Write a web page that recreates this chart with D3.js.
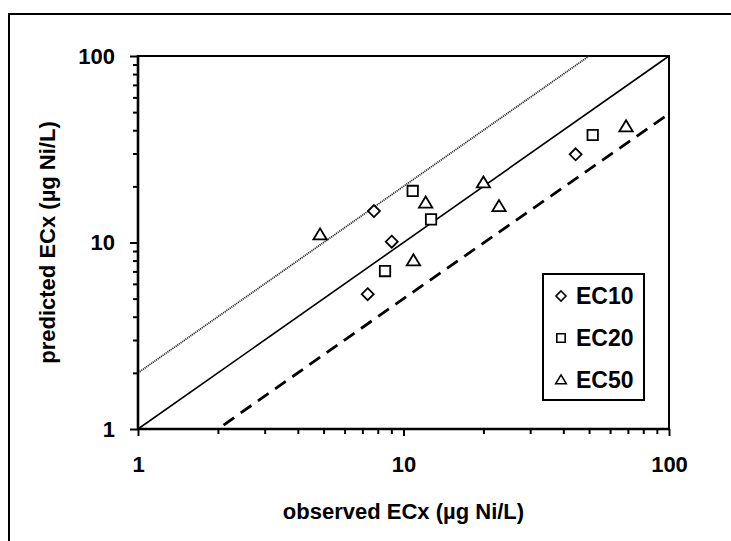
<!DOCTYPE html>
<html><head><meta charset="utf-8">
<script src="https://cdn.jsdelivr.net/npm/d3@7"></script>
<style>body{margin:0;background:#fff}svg{display:block}</style>
</head><body>
<svg id="c" width="731" height="541"></svg>
<script>
// ---- data ----
const ec10_x = [7.74, 9.03, 7.33, 44.5];
const ec10_y = [14.75, 10.1, 5.28, 29.7];
const ec20_x = [10.83, 12.7, 8.52, 51.6];
const ec20_y = [18.9, 13.3, 7.03, 37.7];
const ec50_x = [4.85, 12.12, 10.9, 20.0, 22.9, 68.9];
const ec50_y = [11.0, 16.3, 7.99, 20.9, 15.6, 41.8];
const line1_x = [1, 100], line1_y = [1, 100];          // 1:1
const line2_x = [1, 50],  line2_y = [2, 100];          // factor 2 above
const line3_x = [2.1, 10.6, 100], line3_y = [1.05, 5.3, 49]; // factor 2 below
const majorTicks = [1, 10, 100];
const minorTicks = [2,3,4,5,6,7,8,9,20,30,40,50,60,70,80,90];
const legendLabels = ["EC10", "EC20", "EC50"];
const xTitle = "observed ECx (µg Ni/L)";
const yTitle = "predicted ECx (µg Ni/L)";

const svg = d3.select("#c");
const font = "'Liberation Sans', Arial, sans-serif";
const x = d3.scaleLog().domain([1, 100]).range([138, 669]);
const y = d3.scaleLog().domain([1, 100]).range([429, 56]);

// outer frame
svg.append("rect").attr("x", 9).attr("y", 14).attr("width", 760).attr("height", 560)
  .attr("fill", "#fff").attr("stroke", "#000").attr("stroke-width", 2);

// plot box top/right
svg.append("path").attr("d", `M${x(1)},${y(100)}H${x(100)}V${y(1)}`)
  .attr("fill", "none").attr("stroke", "#000").attr("stroke-width", 2);

// reference lines
const lineGen = d3.line().x(d => x(d[0])).y(d => y(d[1]));
svg.append("path").datum(d3.zip(line2_x, line2_y)).attr("d", lineGen)
  .attr("fill", "none").attr("stroke", "#333").attr("stroke-width", 1.8).attr("stroke-dasharray", "1.2,0.8");
svg.append("path").datum(d3.zip(line1_x, line1_y)).attr("d", lineGen)
  .attr("fill", "none").attr("stroke", "#000").attr("stroke-width", 1.6);
svg.append("path").datum(d3.zip(line3_x, line3_y)).attr("d", lineGen)
  .attr("fill", "none").attr("stroke", "#000").attr("stroke-width", 2.8).attr("stroke-dasharray", "13,8");

// axes
function styleAxis(g) {
  g.select(".domain").remove();
  g.selectAll(".tick line").attr("stroke", "#000").attr("stroke-width", 2);
  g.selectAll(".tick text").attr("font-family", font).attr("font-weight", "bold")
    .attr("font-size", 22).attr("fill", "#000");
}
svg.append("g").attr("transform", `translate(0,${y(1)})`)
  .call(d3.axisBottom(x).tickValues(minorTicks).tickSize(5).tickFormat(""))
  .call(styleAxis);
svg.append("g").attr("transform", `translate(0,${y(1)})`)
  .call(d3.axisBottom(x).tickValues(majorTicks).tickSize(7).tickPadding(20).tickFormat(d3.format("d")))
  .call(styleAxis);
svg.append("g").attr("transform", `translate(${x(1)},0)`)
  .call(d3.axisLeft(y).tickValues(minorTicks).tickSize(5).tickFormat(""))
  .call(styleAxis);
svg.append("g").attr("transform", `translate(${x(1)},0)`)
  .call(d3.axisLeft(y).tickValues(majorTicks).tickSize(8).tickPadding(15).tickFormat(d3.format("d")))
  .call(styleAxis);
// axis lines
svg.append("line").attr("x1", x(1)).attr("x2", x(1)).attr("y1", y(100) - 1).attr("y2", y(1) + 1)
  .attr("stroke", "#000").attr("stroke-width", 2.6);
svg.append("line").attr("x1", x(1) - 1).attr("x2", x(100)).attr("y1", y(1)).attr("y2", y(1))
  .attr("stroke", "#000").attr("stroke-width", 2.6);

// titles
svg.append("text").attr("x", (x(1) + x(100)) / 2).attr("y", 519).attr("text-anchor", "middle")
  .attr("font-family", font).attr("font-weight", "bold").attr("font-size", 22).text(xTitle);
svg.append("text").attr("transform", `translate(55,${(y(1) + y(100)) / 2}) rotate(-90)`)
  .attr("text-anchor", "middle")
  .attr("font-family", font).attr("font-weight", "bold").attr("font-size", 22).text(yTitle);

// markers
const sym = {
  diamond: s => `M0,${-s}L${s},0L0,${s}L${-s},0Z`,
  square: s => `M${-s},${-s}H${s}V${s}H${-s}Z`,
  triangle: s => `M0,${-s * 1.1}L${s * 1.15},${s * 0.8}H${-s * 1.15}Z`
};
function drawPts(xs, ys, shape, s) {
  svg.append("g").selectAll("path").data(d3.zip(xs, ys)).join("path")
    .attr("transform", d => `translate(${x(d[0])},${y(d[1])})`)
    .attr("d", sym[shape](s)).attr("fill", "#fff").attr("stroke", "#000").attr("stroke-width", 1.8);
}
drawPts(ec10_x, ec10_y, "diamond", 6);
drawPts(ec20_x, ec20_y, "square", 5.2);
drawPts(ec50_x, ec50_y, "triangle", 5.8);

// legend
const lg = svg.append("g");
lg.append("rect").attr("x", 543).attr("y", 274).attr("width", 101).attr("height", 126)
  .attr("fill", "#fff").attr("stroke", "#000").attr("stroke-width", 2);
const shapes = ["diamond", "square", "triangle"];
const sizes = [5, 4.2, 4.6];
legendLabels.forEach((lab, i) => {
  const cy = 296 + i * 42;
  lg.append("path").attr("transform", `translate(561,${cy})`).attr("d", sym[shapes[i]](sizes[i]))
    .attr("fill", "#fff").attr("stroke", "#000").attr("stroke-width", 1.6);
  lg.append("text").attr("x", 576).attr("y", cy).attr("dy", "0.36em")
    .attr("font-family", font).attr("font-weight", "bold").attr("font-size", 23).text(lab);
});
</script>
</body></html>
